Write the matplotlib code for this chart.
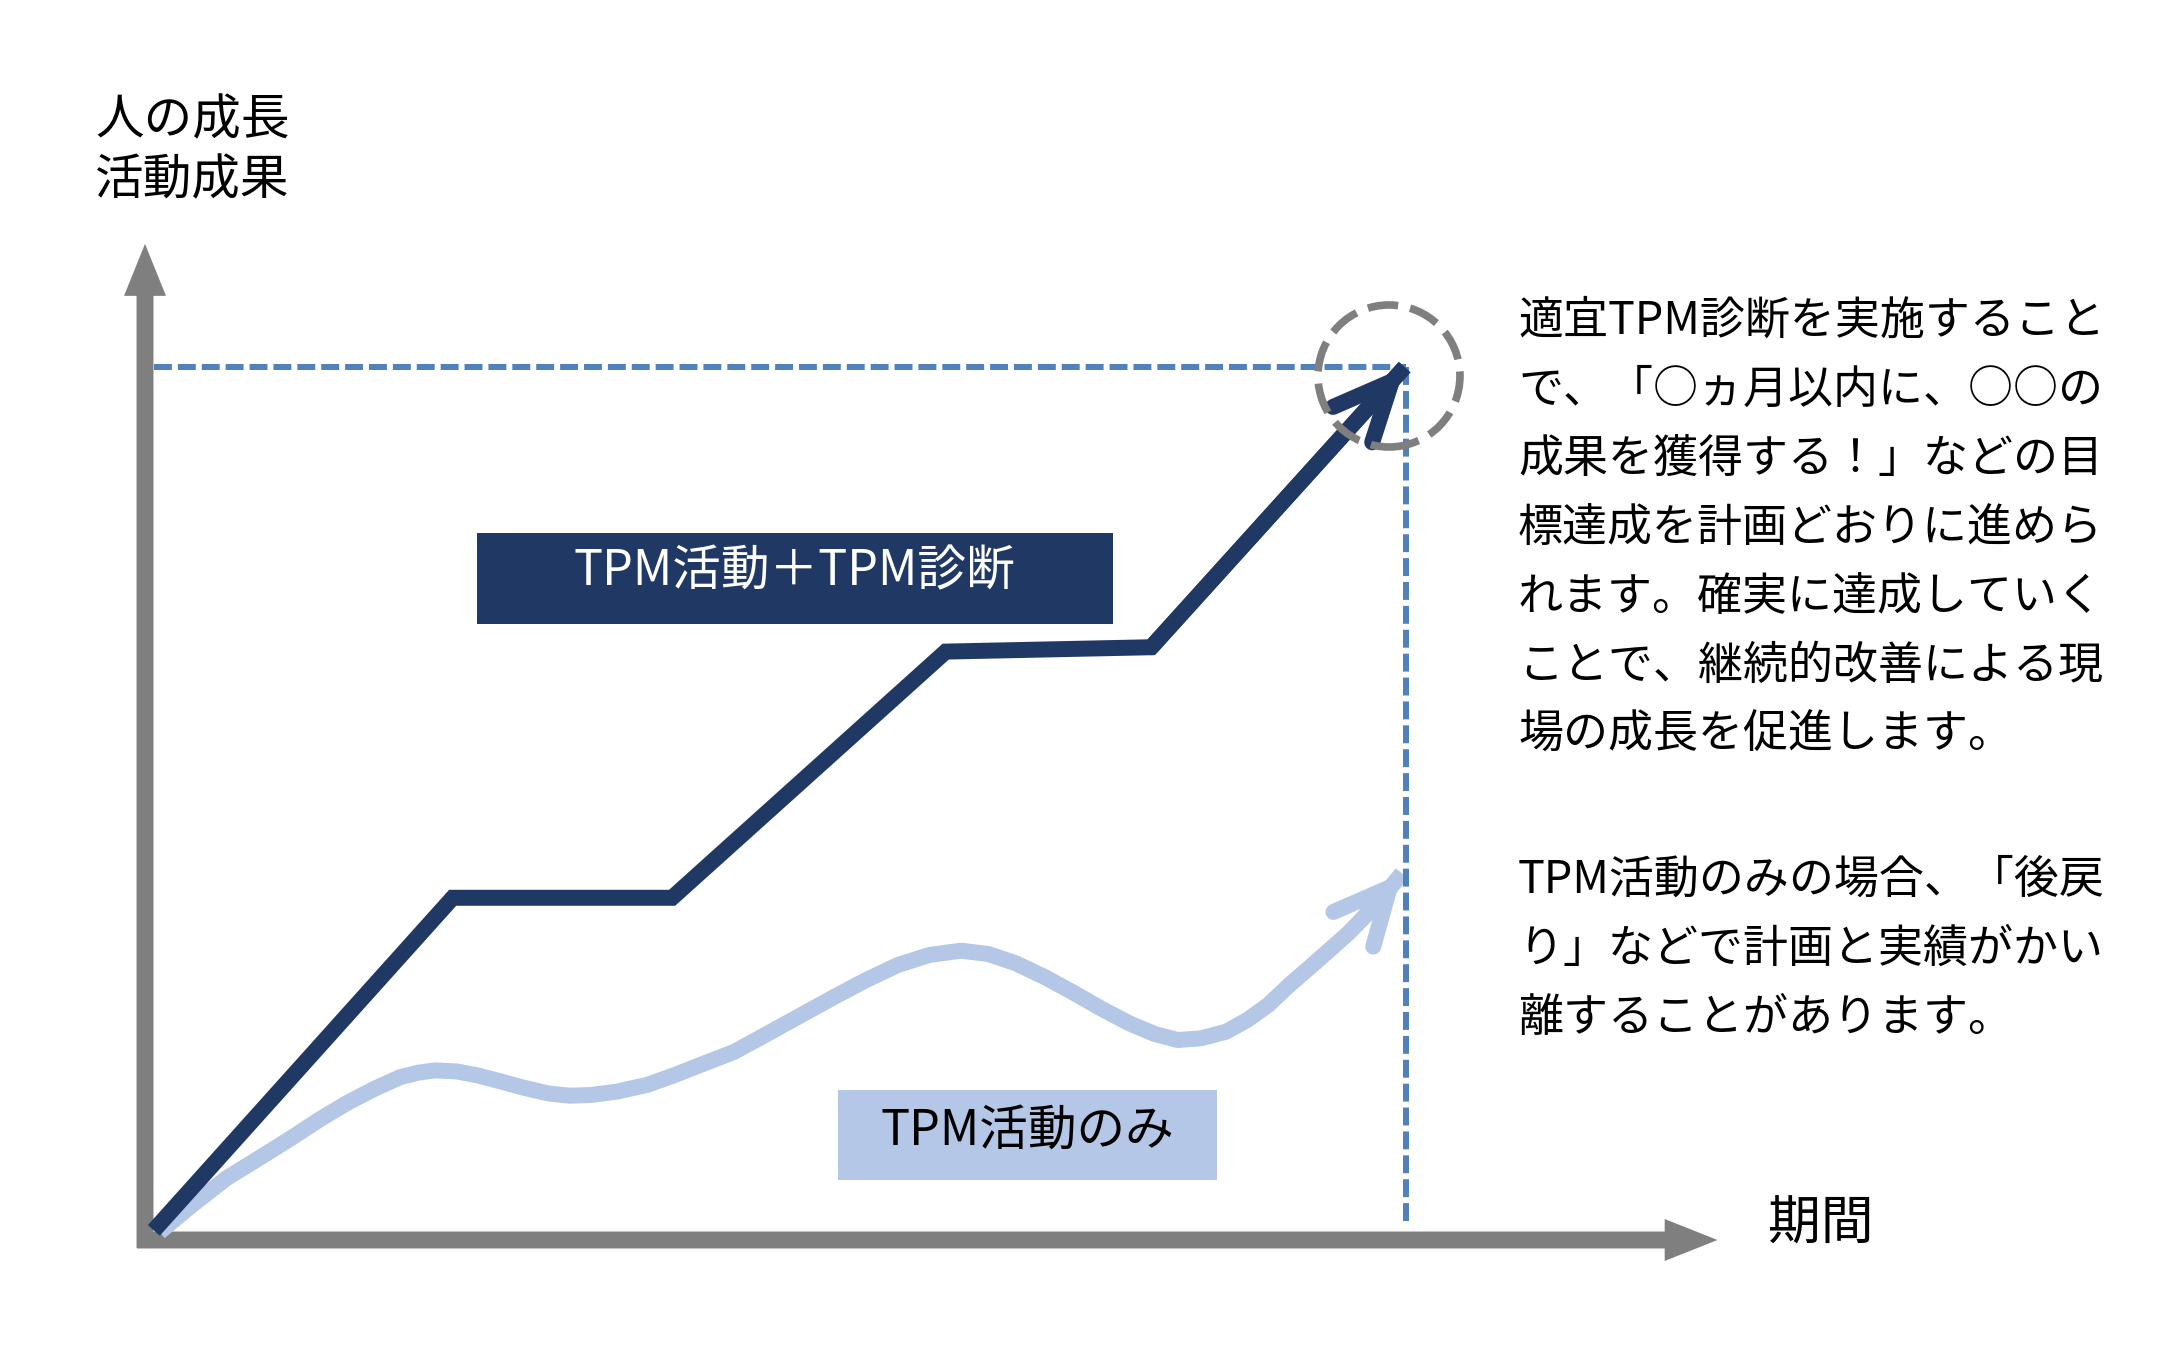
import matplotlib
matplotlib.use("Agg")
import matplotlib.pyplot as plt
from matplotlib.patches import Rectangle, Ellipse

plt.rcParams['font.family'] = ['Noto Sans CJK JP', 'DejaVu Sans']

# chart values (period 0-100, growth 0-100)
diag_x = [0.7, 24.4, 41.8, 63.5, 79.8, 99.9]
diag_y = [1.1, 39.2, 39.2, 67.4, 67.9, 100.0]

only_x = [1.15, 3.73, 6.48, 9.06, 11.64, 13.88, 16.11, 18.18, 20.24, 21.61, 22.99, 24.71,
          26.42, 28.14, 29.87, 31.93, 33.65, 35.37, 37.43, 39.84, 41.90, 44.31, 46.72,
          49.47, 50.36, 52.53, 54.69, 57.2, 59.7, 62.2, 64.71, 66.87, 69.05, 71.39, 73.72,
          75.89, 78.06, 80.06, 81.89, 83.73, 85.73, 87.41, 89.07, 90.75, 92.58, 94.08,
          95.42, 96.58, 97.75, 99.68]
only_y = [0.92, 4.00, 7.09, 9.39, 11.72, 13.84, 15.76, 17.31, 18.66, 19.15, 19.43, 19.31,
          18.84, 18.19, 17.50, 16.80, 16.53, 16.61, 17.00, 17.77, 18.84, 20.20, 21.55,
          23.71, 24.43, 26.15, 27.87, 29.78, 31.50, 32.65, 33.14, 32.76, 31.70, 30.09, 28.26,
          26.46, 24.82, 23.60, 22.91, 23.10, 23.86, 25.20, 26.92, 29.21, 31.50, 33.41,
          35.13, 36.85, 38.57, 42.00]

target_x, target_y = 100, 100

y_label = ["人の成長", "活動成果"]
x_label = "期間"
diag_label = "TPM活動＋TPM診断"
only_label = "TPM活動のみ"

note_1 = ["適宜TPM診断を実施すること",
          "で、「○ヵ月以内に、○○の",
          "成果を獲得する！」などの目",
          "標達成を計画どおりに進めら",
          "れます。確実に達成していく",
          "ことで、継続的改善による現",
          "場の成長を促進します。"]
note_2 = ["TPM活動のみの場合、「後戻",
          "り」などで計画と実績がかい",
          "離することがあります。"]

NAVY = "#203864"
LIGHT = "#b4c7e7"
DASH = "#4f81bd"
GRAY = "#7f7f7f"

W, H = 2160, 1353
fig = plt.figure(figsize=(W / 100, H / 100), dpi=100)


def fx(px):
    return px / W


def fy(py):
    return 1 - py / H


ax = fig.add_axes([fx(145), fy(1240), fx(1406) - fx(145), fy(367) - fy(1240)])
ax.set_xlim(0, 100)
ax.set_ylim(0, 100)
ax.axis('off')

# axes arrows
ax.annotate('', xy=(0, 114.1), xytext=(0, -0.92),
            arrowprops=dict(arrowstyle='simple,head_length=37.4,head_width=30.2,tail_width=12.2',
                            mutation_scale=1, color=GRAY, lw=0, shrinkA=0, shrinkB=0),
            annotation_clip=False, zorder=1)
ax.annotate('', xy=(124.7, 0), xytext=(-0.63, 0),
            arrowprops=dict(arrowstyle='simple,head_length=38,head_width=30.2,tail_width=12.2',
                            mutation_scale=1, color=GRAY, lw=0, shrinkA=0, shrinkB=0),
            annotation_clip=False, zorder=1)

# target guides
ax.plot([0.7, target_x], [target_y, target_y], ls=(0, (3, 1)), lw=4.3, color=DASH,
        clip_on=False, zorder=3)
ax.plot([target_x, target_x], [target_y, 1.6], ls=(0, (3, 1)), lw=4.3, color=DASH,
        clip_on=False, zorder=3)

# TPM活動のみ
ax.plot(only_x, only_y, color=LIGHT, lw=11.5, solid_capstyle='butt',
        solid_joinstyle='round', clip_on=False, zorder=2)
ax.annotate('', xy=(only_x[-1], only_y[-1]), xytext=(only_x[-3], only_y[-3]),
            arrowprops=dict(arrowstyle='->,head_length=40,head_width=19', mutation_scale=1,
                            color=LIGHT, lw=11.5, shrinkA=0, shrinkB=0,
                            capstyle='round', joinstyle='miter'),
            annotation_clip=False, zorder=2)

# TPM活動＋TPM診断
ax.plot(diag_x, diag_y, color=NAVY, lw=11.5, solid_capstyle='butt',
        solid_joinstyle='miter', clip_on=False, zorder=4)
ax.annotate('', xy=(diag_x[-1], diag_y[-1]), xytext=(diag_x[-2], diag_y[-2]),
            arrowprops=dict(arrowstyle='->,head_length=42,head_width=19', mutation_scale=1,
                            color=NAVY, lw=11.5, shrinkA=0, shrinkB=0,
                            capstyle='round', joinstyle='miter'),
            annotation_clip=False, zorder=4)

# dashed circle around the goal
ax.add_patch(Ellipse((98.65, 98.97), 11.26, 16.27, fill=False, ec=GRAY, lw=5.5,
                     ls=(0, (4, 1.6)), clip_on=False, zorder=5))

# label boxes
ax.add_patch(Rectangle((26.3, 70.6), 50.5, 10.4, color=NAVY, lw=0, clip_on=False, zorder=5))
ax.text(51.5, 76.6, diag_label, color='white', fontsize=35, ha='center', va='center', zorder=6)
ax.add_patch(Rectangle((54.96, 6.87), 30.04, 10.31, color=LIGHT, lw=0, clip_on=False, zorder=5))
ax.text(70.0, 12.5, only_label, color='black', fontsize=35, ha='center', va='center', zorder=6)

# axis labels
for i, s in enumerate(y_label):
    fig.text(fx(95), fy(121 + 60 * i), s, fontsize=35, ha='left', va='center')
fig.text(fx(1768), fy(1224), x_label, fontsize=38, ha='left', va='center')

# notes
for i, s in enumerate(note_1):
    fig.text(fx(1518), fy(321 + 69 * i), s, fontsize=32.4, ha='left', va='center')
for i, s in enumerate(note_2):
    fig.text(fx(1518), fy(880 + 69 * i), s, fontsize=32.4, ha='left', va='center')

fig.savefig("out.png", dpi=100, facecolor='white')
